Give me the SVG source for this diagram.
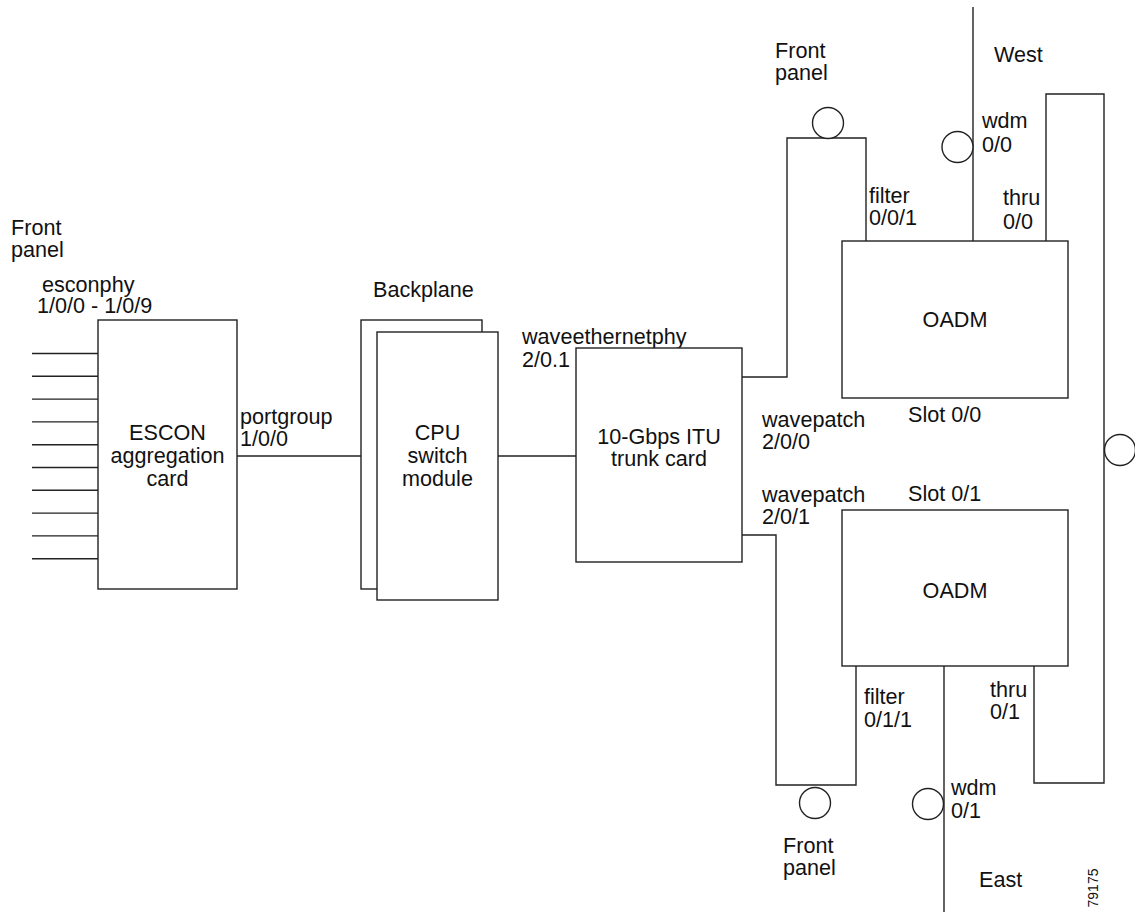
<svg xmlns="http://www.w3.org/2000/svg" width="1135" height="915" viewBox="0 0 1135 915">
<style>
  .box { fill: #fff; stroke: #222; stroke-width: 1.4; }
  .ln { fill: none; stroke: #222; stroke-width: 1.4; }
  .port { fill: #fff; stroke: #222; stroke-width: 1.4; }
  text { font-family: "Liberation Sans", Arial, sans-serif; font-size: 21.6px; fill: #111; }
  .c { text-anchor: middle; }
  .small { font-size: 14px; }
</style>
<rect width="1135" height="915" fill="#fff"/>

<g id="connectors">
  <!-- ESCON front panel ports -->
  <path class="ln" d="M32,353.5H98 M32,376.3H98 M32,399.1H98 M32,421.9H98 M32,444.7H98 M32,467.5H98 M32,490.3H98 M32,513.1H98 M32,535.9H98 M32,558.7H98"/>
  <!-- portgroup -->
  <path class="ln" d="M237,456H361"/>
  <!-- CPU to trunk -->
  <path class="ln" d="M498,456H576"/>
  <!-- wavepatch 2/0/0 to filter 0/0/1 -->
  <path class="ln" d="M742,377H787V138H866V241"/>
  <!-- wavepatch 2/0/1 to filter 0/1/1 -->
  <path class="ln" d="M742,535H776V785H856V666"/>
  <!-- West wdm -->
  <path class="ln" d="M973,7V241"/>
  <!-- East wdm -->
  <path class="ln" d="M944,666V912"/>
  <!-- thru loop -->
  <path class="ln" d="M1034,666V783H1104V94H1046V241"/>
</g>

<g id="front-panel-left">
  <text x="11" y="235">Front</text>
  <text x="11" y="257">panel</text>
  <text x="42" y="292">esconphy</text>
  <text x="37" y="313">1/0/0 - 1/0/9</text>
</g>

<g id="escon-card">
  <rect class="box" x="98" y="320" width="139" height="269"/>
  <text class="c" x="167.5" y="440">ESCON</text>
  <text class="c" x="167.5" y="463">aggregation</text>
  <text class="c" x="167.5" y="486">card</text>
</g>

<g id="portgroup-label">
  <text x="240" y="424">portgroup</text>
  <text x="240" y="446">1/0/0</text>
</g>

<g id="cpu-switch-module">
  <text x="373" y="297">Backplane</text>
  <rect class="box" x="361" y="320" width="121" height="269"/>
  <rect class="box" x="377" y="332" width="121" height="268"/>
  <text class="c" x="437.5" y="440">CPU</text>
  <text class="c" x="437.5" y="463">switch</text>
  <text class="c" x="437.5" y="486">module</text>
</g>

<g id="trunk-card">
  <text x="522" y="344">waveethernetphy</text>
  <text x="522" y="367">2/0.1</text>
  <rect class="box" x="576" y="348" width="166" height="214"/>
  <text class="c" x="659" y="444">10-Gbps ITU</text>
  <text class="c" x="659" y="466">trunk card</text>
</g>

<g id="wavepatch-labels">
  <text x="762" y="427">wavepatch</text>
  <text x="762" y="449">2/0/0</text>
  <text x="762" y="502">wavepatch</text>
  <text x="762" y="524">2/0/1</text>
</g>

<g id="oadm-slot-0-0">
  <rect class="box" x="842" y="241" width="226" height="157"/>
  <text class="c" x="955" y="327">OADM</text>
  <text x="908" y="422">Slot 0/0</text>
</g>

<g id="oadm-slot-0-1">
  <text x="908" y="501">Slot 0/1</text>
  <rect class="box" x="842" y="510" width="226" height="156"/>
  <text class="c" x="955" y="598">OADM</text>
</g>

<g id="front-panel-top">
  <circle class="port" cx="828" cy="123" r="15.5"/>
  <text x="775" y="58">Front</text>
  <text x="775" y="80">panel</text>
  <text x="869" y="203">filter</text>
  <text x="869" y="225">0/0/1</text>
</g>

<g id="west-wdm">
  <circle class="port" cx="957.5" cy="147" r="15.5"/>
  <text x="994" y="62">West</text>
  <text x="982" y="128">wdm</text>
  <text x="982" y="152">0/0</text>
</g>

<g id="thru-ports">
  <text x="1003" y="205">thru</text>
  <text x="1003" y="229">0/0</text>
  <circle class="port" cx="1120" cy="450" r="15.5"/>
  <text x="990" y="697">thru</text>
  <text x="990" y="719">0/1</text>
</g>

<g id="front-panel-bottom">
  <circle class="port" cx="815" cy="803" r="15.5"/>
  <text x="864" y="704">filter</text>
  <text x="864" y="727">0/1/1</text>
  <text x="783" y="853">Front</text>
  <text x="783" y="875">panel</text>
</g>

<g id="east-wdm">
  <circle class="port" cx="928" cy="804" r="15.5"/>
  <text x="951" y="795">wdm</text>
  <text x="951" y="818">0/1</text>
  <text x="979" y="887">East</text>
</g>

<g id="figure-number">
  <text class="c small" transform="translate(1098,888) rotate(-90)">79175</text>
</g>
</svg>
